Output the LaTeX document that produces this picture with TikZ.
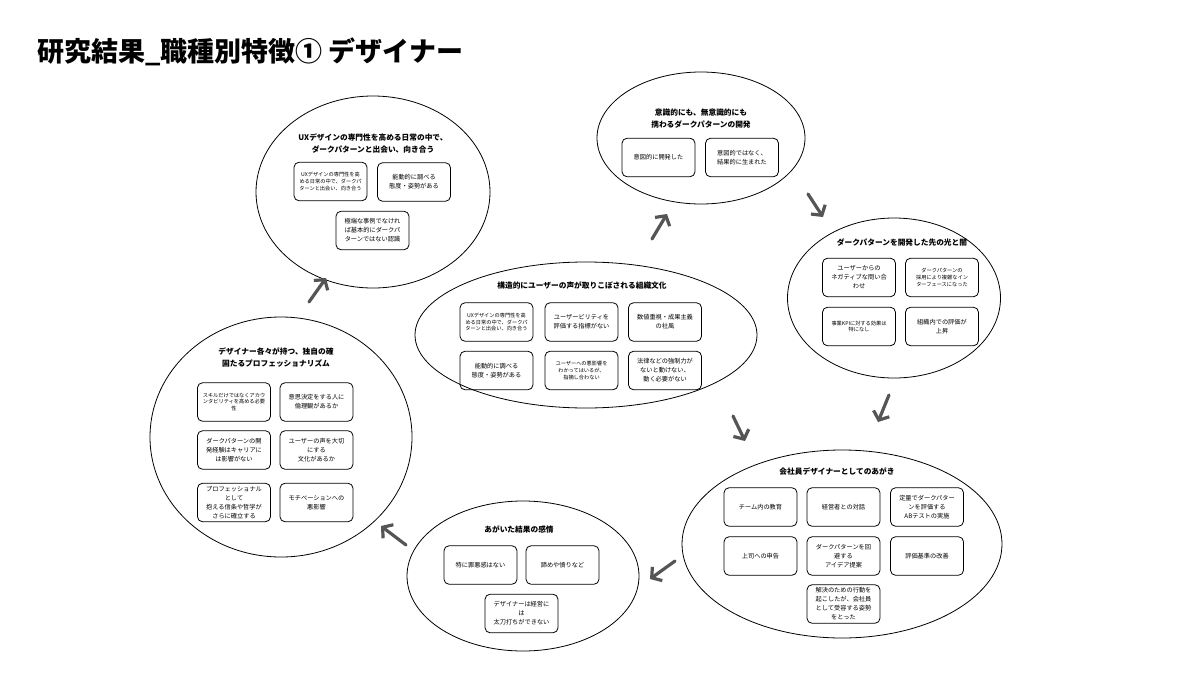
\documentclass[tikz,border=0pt]{standalone}
\usepackage{fontspec}
\setmainfont{Noto Sans CJK JP}
\usetikzlibrary{shapes.geometric,arrows.meta}
\definecolor{arrowgray}{HTML}{555555}
\begin{document}
\begin{tikzpicture}[x=1pt,y=-1pt,
  oval/.style={draw,ellipse,line width=0.8pt,inner sep=0pt},
  head/.style={align=center,inner sep=0pt,font=\bfseries\fontsize{7.7}{12}\selectfont},
  card/.style={draw,rounded corners=5pt,line width=0.8pt,align=center,inner sep=1pt,
    minimum width=73pt,minimum height=38.5pt,text width=70pt,font=\fontsize{6.2}{9}\selectfont},
  tiny/.style={font=\fontsize{5.2}{6.8}\selectfont},
  flow/.style={draw=arrowgray,line width=3.2pt,line cap=round,line join=round,
    -{Straight Barb[length=7pt,width=17pt]}}
]
\useasboundingbox (0,0) rectangle (1200,675);
\fill[white] (0,0) rectangle (1200,675);

% title
\node[anchor=west,inner sep=0pt,font=\bfseries\fontsize{27}{30}\selectfont] (title) at (37,52) {研究結果\_職種別特徴① デザイナー};

% ellipses
\node[oval,minimum width=234pt,minimum height=192pt] (e1) at (373,192) {};
\node[oval,minimum width=208pt,minimum height=132pt] (e2) at (701,138) {};
\node[oval,minimum width=213pt,minimum height=160pt] (e3) at (894,298) {};
\node[oval,minimum width=342pt,minimum height=146pt] (e4) at (586,335) {};
\node[oval,minimum width=262pt,minimum height=240pt] (e5) at (281,437) {};
\node[oval,minimum width=320pt,minimum height=188pt] (e6) at (842,544) {};
\node[oval,minimum width=232pt,minimum height=150pt] (e7) at (523,576) {};

% E1
\node[head] (t1) at (373,144) {UXデザインの専門性を高める日常の中で、\\ダークパターンと出会い、向き合う};
\node[card,tiny] (b1a) at (330.5,181.5) {UXデザインの専門性を高\\める日常の中で、ダークパ\\ターンと出会い、向き合う};
\node[card] (b1b) at (414,182) {能動的に調べる\\態度・姿勢がある};
\node[card] (b1c) at (372.5,230.5) {極端な事例でなけれ\\ば基本的にダークパ\\ターンではない認識};

% E2
\node[head] (t2) at (701,119) {意識的にも、無意識的にも\\携わるダークパターンの開発};
\node[card] (b2a) at (658.5,157.5) {意図的に開発した};
\node[card] (b2b) at (742,157.5) {意図的ではなく、\\結果的に生まれた};

% E3
\node[head] (t3) at (902,243) {ダークパターンを開発した先の光と闇};
\node[card] (b3a) at (859,277.5) {ユーザーからの\\ネガティブな問い合\\わせ};
\node[card,tiny] (b3b) at (942,277.5) {ダークパターンの\\採用により複雑なイン\\ターフェースになった};
\node[card,tiny] (b3c) at (859,326.5) {事業KPIに対する効果は\\特になし};
\node[card] (b3d) at (942,326.5) {組織内での評価が\\上昇};

% E4
\node[head] (t4) at (582,286) {構造的にユーザーの声が取りこぼされる組織文化};
\node[card,tiny] (b4a) at (496.5,322) {UXデザインの専門性を高\\める日常の中で、ダークパ\\ターンと出会い、向き合う};
\node[card] (b4b) at (581.5,322) {ユーザービリティを\\評価する指標がない};
\node[card] (b4c) at (665,322) {数値重視・成果主義\\の社風};
\node[card] (b4d) at (496.5,370.5) {能動的に調べる\\態度・姿勢がある};
\node[card,tiny] (b4e) at (581.5,370.5) {ユーザーへの悪影響を\\わかってはいるが、\\指摘し合わない};
\node[card] (b4f) at (665,370.5) {法律などの強制力が\\ないと動けない、\\動く必要がない};

% E5
\node[head] (t5) at (276,357.5) {デザイナー各々が持つ、独自の確\\固たるプロフェッショナリズム};
\node[card,tiny] (b5a) at (234,402) {スキルだけではなくアカウ\\ンタビリティを高める必要\\性};
\node[card] (b5b) at (316.5,402) {意思決定をする人に\\倫理観があるか};
\node[card] (b5c) at (234,450) {ダークパターンの開\\発経験はキャリアに\\は影響がない};
\node[card] (b5d) at (316.5,450) {ユーザーの声を大切\\にする\\文化があるか};
\node[card] (b5e) at (234,502.5) {プロフェッショナル\\として\\抱える信条や哲学が\\さらに確立する};
\node[card] (b5f) at (316.5,502.5) {モチベーションへの\\悪影響};

% E6
\node[head] (t6) at (837,471) {会社員デザイナーとしてのあがき};
\node[card] (b6a) at (760.5,507) {チーム内の教育};
\node[card] (b6b) at (843.5,507) {経営者との対話};
\node[card] (b6c) at (927,507) {定量でダークパター\\ンを評価する\\ABテストの実施};
\node[card] (b6d) at (760.5,556) {上司への申告};
\node[card] (b6e) at (843.5,556) {ダークパターンを回\\避する\\アイデア提案};
\node[card] (b6f) at (927,556) {評価基準の改善};
\node[card] (b6g) at (843.5,604) {解決のための行動を\\起こしたが、会社員\\として受容する姿勢\\をとった};

% E7
\node[head] (t7) at (519,529) {あがいた結果の感情};
\node[card] (b7a) at (480.5,565) {特に罪悪感はない};
\node[card] (b7b) at (562.5,565) {諦めや憤りなど};
\node[card] (b7c) at (521.5,613.5) {デザイナーは経営に\\は\\太刀打ちができない};

% arrows
\coordinate (a1s) at (309,302); \coordinate (a1e) at (326,278);
\coordinate (a2s) at (652,239); \coordinate (a2e) at (667,214);
\coordinate (a3s) at (808,194); \coordinate (a3e) at (823,217);
\coordinate (a4s) at (889,395); \coordinate (a4e) at (878,422);
\coordinate (a5s) at (733,416); \coordinate (a5e) at (745,441);
\coordinate (a6s) at (675,561); \coordinate (a6e) at (650,579);
\coordinate (a7s) at (406,545); \coordinate (a7e) at (381,526);
\draw[flow] (a1s) -- (a1e);
\draw[flow] (a2s) -- (a2e);
\draw[flow] (a3s) -- (a3e);
\draw[flow] (a4s) -- (a4e);
\draw[flow] (a5s) -- (a5e);
\draw[flow] (a6s) -- (a6e);
\draw[flow] (a7s) -- (a7e);
\end{tikzpicture}
\end{document}
